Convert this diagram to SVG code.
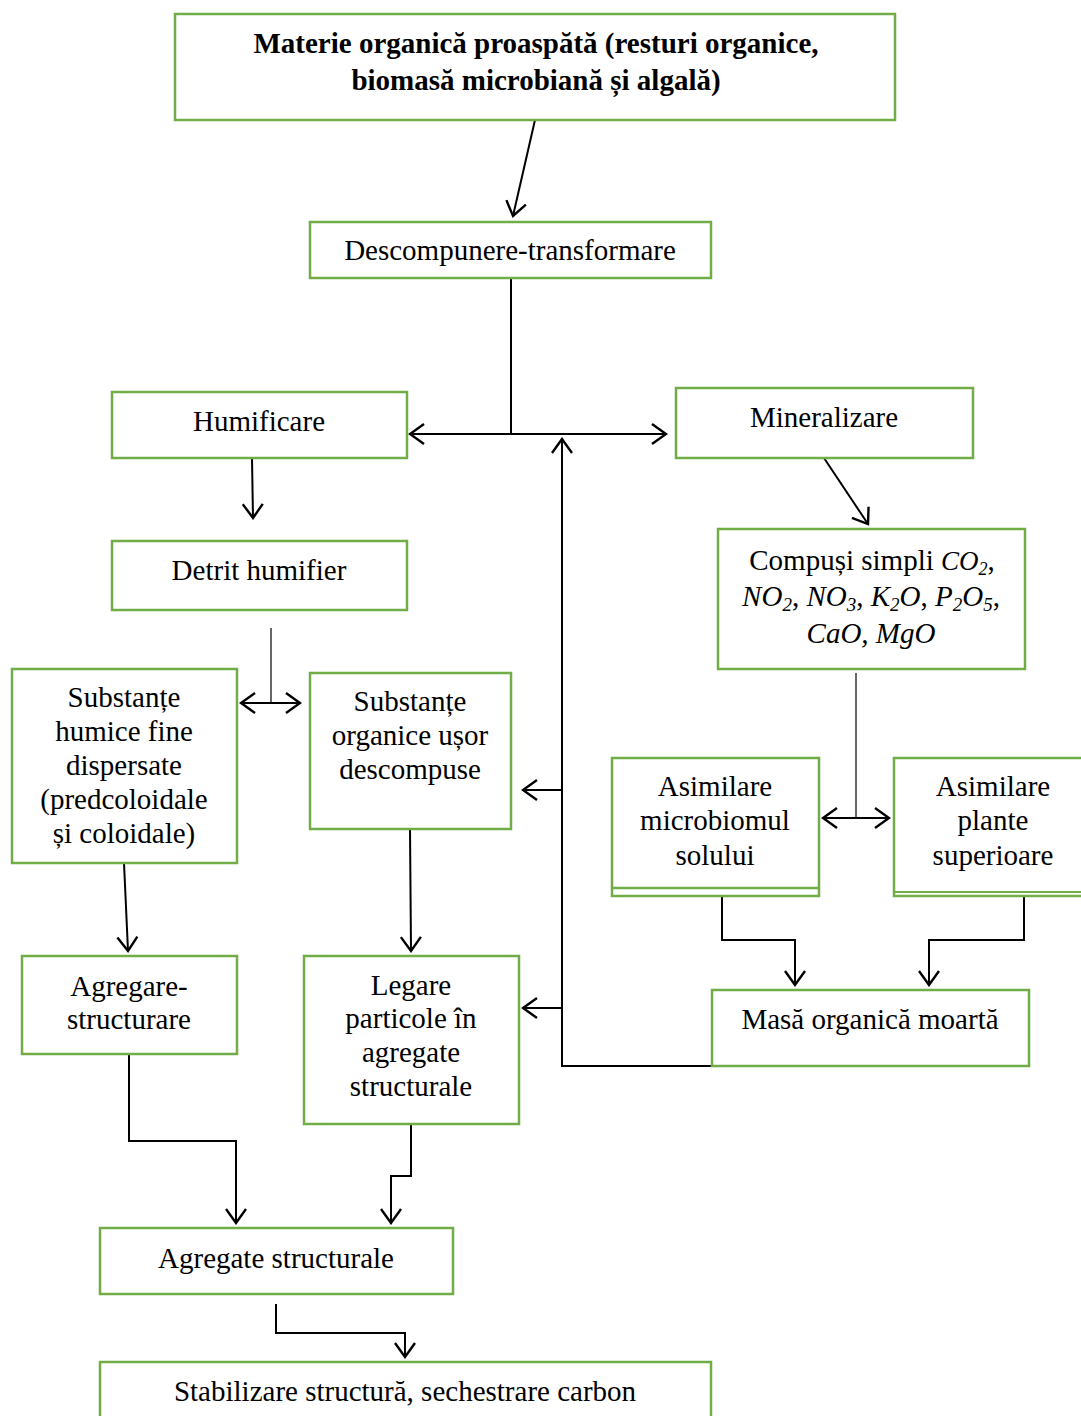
<svg xmlns="http://www.w3.org/2000/svg" width="1081" height="1416" viewBox="0 0 1081 1416">
<defs>
<marker id="ah" markerUnits="userSpaceOnUse" markerWidth="20" markerHeight="24" viewBox="0 0 20 24" refX="18" refY="12" orient="auto">
<path d="M4,2 L18,12 L4,22" fill="none" stroke="#000" stroke-width="2.4"/>
</marker>
<marker id="ahs" markerUnits="userSpaceOnUse" markerWidth="20" markerHeight="24" viewBox="0 0 20 24" refX="2" refY="12" orient="auto">
<path d="M16,2 L2,12 L16,22" fill="none" stroke="#000" stroke-width="2.4"/>
</marker>
</defs>
<style>
.box{fill:#fff;stroke:#70AD47;stroke-width:2.5}
.t{font-family:"Liberation Serif","Times New Roman",serif;font-size:29px;fill:#000;text-anchor:middle}
.b{font-weight:bold;font-size:29px}
.i{font-style:italic}
.c{fill:none;stroke:#000;stroke-width:2}
.thin{fill:none;stroke:#000;stroke-width:1.2}
</style>
<rect width="1081" height="1416" fill="#fff"/>
<g id="connectors">
<path class="c" d="M535,120 L513,216" marker-end="url(#ah)"/>
<path class="c" d="M511,278 L511,434"/>
<path class="c" d="M511,434 L410,434" marker-end="url(#ah)"/>
<path class="c" d="M511,434 L666,434" marker-end="url(#ah)"/>
<path class="c" d="M712,1066 L562,1066 L562,439" marker-end="url(#ah)"/>
<path class="c" d="M562,790 L523,790" marker-end="url(#ah)"/>
<path class="c" d="M562,1008 L523,1008" marker-end="url(#ah)"/>
<path class="c" d="M252,458 L253,518" marker-end="url(#ah)"/>
<path class="thin" d="M271,628 L271,703"/>
<path class="c" d="M241,703 L300,703" marker-start="url(#ahs)" marker-end="url(#ah)"/>
<path class="c" d="M824,458 L868,524" marker-end="url(#ah)"/>
<path class="thin" d="M856,673 L856,818"/>
<path class="c" d="M823,818 L889,818" marker-start="url(#ahs)" marker-end="url(#ah)"/>
<path class="c" d="M124,863 L128,951" marker-end="url(#ah)"/>
<path class="c" d="M410,829 L411,951" marker-end="url(#ah)"/>
<path class="c" d="M722,896 L722,940 L795,940 L795,985" marker-end="url(#ah)"/>
<path class="c" d="M1024,896 L1024,940 L929,940 L929,985" marker-end="url(#ah)"/>
<path class="c" d="M129,1054 L129,1141 L236,1141 L236,1223" marker-end="url(#ah)"/>
<path class="c" d="M411,1124 L411,1176 L391,1176 L391,1223" marker-end="url(#ah)"/>
<path class="c" d="M276,1304 L276,1333 L405,1333 L405,1357" marker-end="url(#ah)"/>
</g>
<g id="n-materie">
<rect class="box" x="175" y="14" width="720" height="106"/>
<text class="t b" x="536" y="53">Materie organică proaspătă (resturi organice,</text>
<text class="t b" x="536" y="90">biomasă microbiană și algală)</text>
</g>
<g id="n-descompunere">
<rect class="box" x="310" y="222" width="401" height="56"/>
<text class="t" x="510" y="260">Descompunere-transformare</text>
</g>
<g id="n-humificare">
<rect class="box" x="112" y="392" width="295" height="66"/>
<text class="t" x="259" y="431">Humificare</text>
</g>
<g id="n-mineralizare">
<rect class="box" x="676" y="388" width="297" height="70"/>
<text class="t" x="824" y="427">Mineralizare</text>
</g>
<g id="n-detrit">
<rect class="box" x="112" y="541" width="295" height="69"/>
<text class="t" x="259" y="580">Detrit humifier</text>
</g>
<g id="n-compusi">
<rect class="box" x="718" y="529" width="307" height="140"/>
<text class="t" x="872" y="570" font-size="22">Compuși simpli <tspan class="i" font-size="27">CO</tspan><tspan class="i" font-size="18" dy="5">2</tspan><tspan dy="-5">,</tspan></text>
<text class="t i" x="871" y="606" font-size="28">NO<tspan font-size="19" dy="5">2</tspan><tspan dy="-5" font-style="normal">, </tspan>NO<tspan font-size="19" dy="5">3</tspan><tspan dy="-5" font-style="normal">, </tspan>K<tspan font-size="19" dy="5">2</tspan><tspan dy="-5">O</tspan><tspan font-style="normal">, </tspan>P<tspan font-size="19" dy="5">2</tspan><tspan dy="-5">O</tspan><tspan font-size="19" dy="5">5</tspan><tspan dy="-5" font-style="normal">,</tspan></text>
<text class="t i" x="871" y="643" font-size="24">CaO, MgO</text>
</g>
<g id="n-humice">
<rect class="box" x="12" y="669" width="225" height="194"/>
<text class="t" x="124" y="707">Substanțe</text>
<text class="t" x="124" y="741">humice fine</text>
<text class="t" x="124" y="775">dispersate</text>
<text class="t" x="124" y="809">(predcoloidale</text>
<text class="t" x="124" y="843">și coloidale)</text>
</g>
<g id="n-organice">
<rect class="box" x="310" y="673" width="201" height="156"/>
<text class="t" x="410" y="711">Substanțe</text>
<text class="t" x="410" y="745">organice ușor</text>
<text class="t" x="410" y="779">descompuse</text>
</g>
<g id="n-microbiom">
<rect class="box" x="612" y="758" width="207" height="138"/>
<line x1="612" y1="888" x2="819" y2="888" stroke="#70AD47" stroke-width="2.5"/>
<text class="t" x="715" y="796">Asimilare</text>
<text class="t" x="715" y="830">microbiomul</text>
<text class="t" x="715" y="865">solului</text>
</g>
<g id="n-plante">
<rect class="box" x="894" y="758" width="200" height="138"/>
<line x1="894" y1="892" x2="1081" y2="892" stroke="#70AD47" stroke-width="2"/>
<text class="t" x="993" y="796">Asimilare</text>
<text class="t" x="993" y="830">plante</text>
<text class="t" x="993" y="865">superioare</text>
</g>
<g id="n-agregare">
<rect class="box" x="22" y="956" width="215" height="98"/>
<text class="t" x="129" y="996">Agregare-</text>
<text class="t" x="129" y="1029">structurare</text>
</g>
<g id="n-legare">
<rect class="box" x="304" y="956" width="215" height="168"/>
<text class="t" x="411" y="995">Legare</text>
<text class="t" x="411" y="1028">particole în</text>
<text class="t" x="411" y="1062">agregate</text>
<text class="t" x="411" y="1096">structurale</text>
</g>
<g id="n-masa">
<rect class="box" x="712" y="990" width="317" height="76"/>
<text class="t" x="870" y="1029">Masă organică moartă</text>
</g>
<g id="n-agregate">
<rect class="box" x="100" y="1228" width="353" height="66"/>
<text class="t" x="276" y="1268">Agregate structurale</text>
</g>
<g id="n-stabilizare">
<rect class="box" x="100" y="1362" width="611" height="70"/>
<text class="t" x="405" y="1401">Stabilizare structură, sechestrare carbon</text>
</g>
</svg>
